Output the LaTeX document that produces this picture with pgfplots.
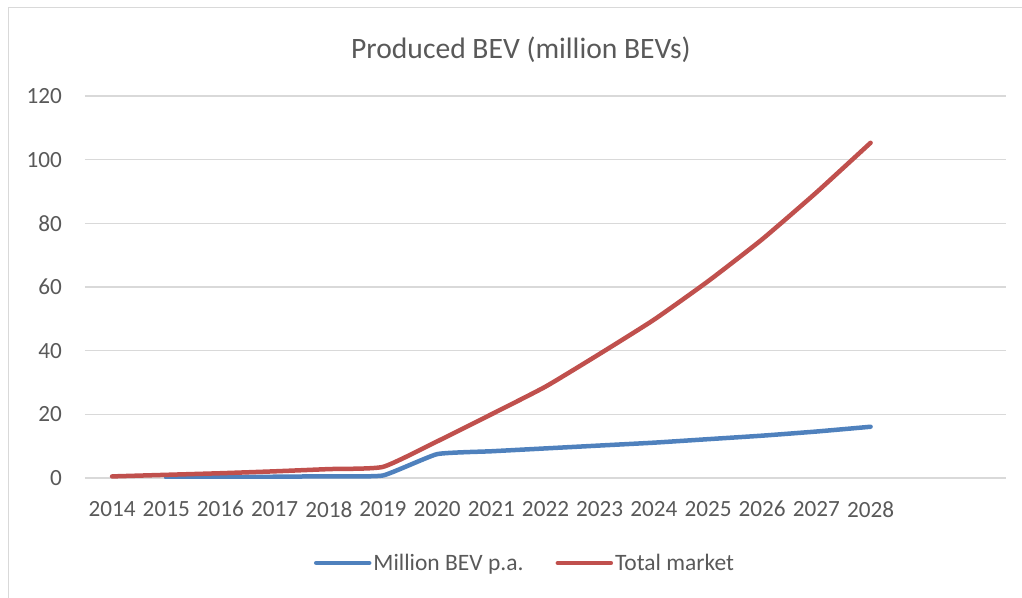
\documentclass[border=0pt]{standalone}
\usepackage{pgfplots}
\pgfplotsset{compat=1.18}
\usepackage{fontspec}
\setmainfont{Carlito}

\definecolor{bevblue}{HTML}{4F81BD}
\definecolor{bevred}{HTML}{C0504D}
\definecolor{txtgray}{HTML}{595959}
\definecolor{gridgray}{HTML}{D9D9D9}

\pgfplotstableread{
x  y
1  0.15
2  0.25
3  0.4
4  0.55
5  0.8
6  7.5
7  8.4
8  9.3
9  10.2
10 11.1
11 12.2
12 13.3
13 14.6
14 16.1
}\bevpa

\pgfplotstableread{
x  y
0  0.5
1  1.0
2  1.5
3  2.1
4  2.8
5  3.5
6  11.5
7  20.0
8  28.7
9  39.0
10 49.7
11 61.8
12 75.0
13 89.7
14 105.3
}\total

\begin{document}
\begin{tikzpicture}
  \useasboundingbox (0pt,0pt) rectangle (1022pt,-597pt);
  % chart area frame (right and bottom edges fall outside the picture)
  \draw[gridgray, line width=1.2pt] (8.5pt,-600pt) -- (8.5pt,-7.5pt) -- (1025pt,-7.5pt);
  \node[text=txtgray, font=\fontsize{29.6}{34}\selectfont] at (521pt,-50pt) {Produced BEV (million BEVs)};

  \begin{axis}[
    at={(85pt,-478pt)}, anchor=south west,
    scale only axis,
    width=921pt, height=382pt,
    xmin=-0.5, xmax=16.5,
    ymin=0, ymax=120,
    xtick={0,...,14},
    xticklabels={2014,2015,2016,2017,2018,2019,2020,2021,2022,2023,2024,2025,2026,2027,2028},
    ytick={0,20,...,120},
    axis line style={draw=none},
    major tick length=0pt,
    ymajorgrids,
    major grid style={gridgray, line width=1.5pt},
    /pgf/number format/assume math mode=true,
    tick label style={text=txtgray, font=\fontsize{23.2}{27}\selectfont},
    yticklabel style={inner sep=0pt, anchor=east, xshift=-23pt},
    xticklabel style={inner sep=0pt, anchor=north, yshift=-23pt},
    legend columns=2,
    legend style={
      at={(0.4777,-0.2225)}, anchor=center,
      draw=none, fill=none,
      font=\fontsize{23.5}{27}\selectfont, text=txtgray,
      nodes={inner sep=2pt},
      /tikz/every even column/.append style={column sep=30pt},
    },
    legend image code/.code={%
      \draw[#1, line width=4.5pt, line cap=round] (0pt,0pt) -- (53pt,0pt);},
    every axis plot/.append style={line width=4.5pt, line cap=round, line join=round},
  ]
    \addplot[bevblue, smooth, tension=0.25] table[x=x, y=y] {\bevpa};
    \addlegendentry{Million BEV p.a.}
    \addplot[bevred, smooth, tension=0.3] table[x=x, y=y] {\total};
    \addlegendentry{Total market}
  \end{axis}
\end{tikzpicture}
\end{document}
